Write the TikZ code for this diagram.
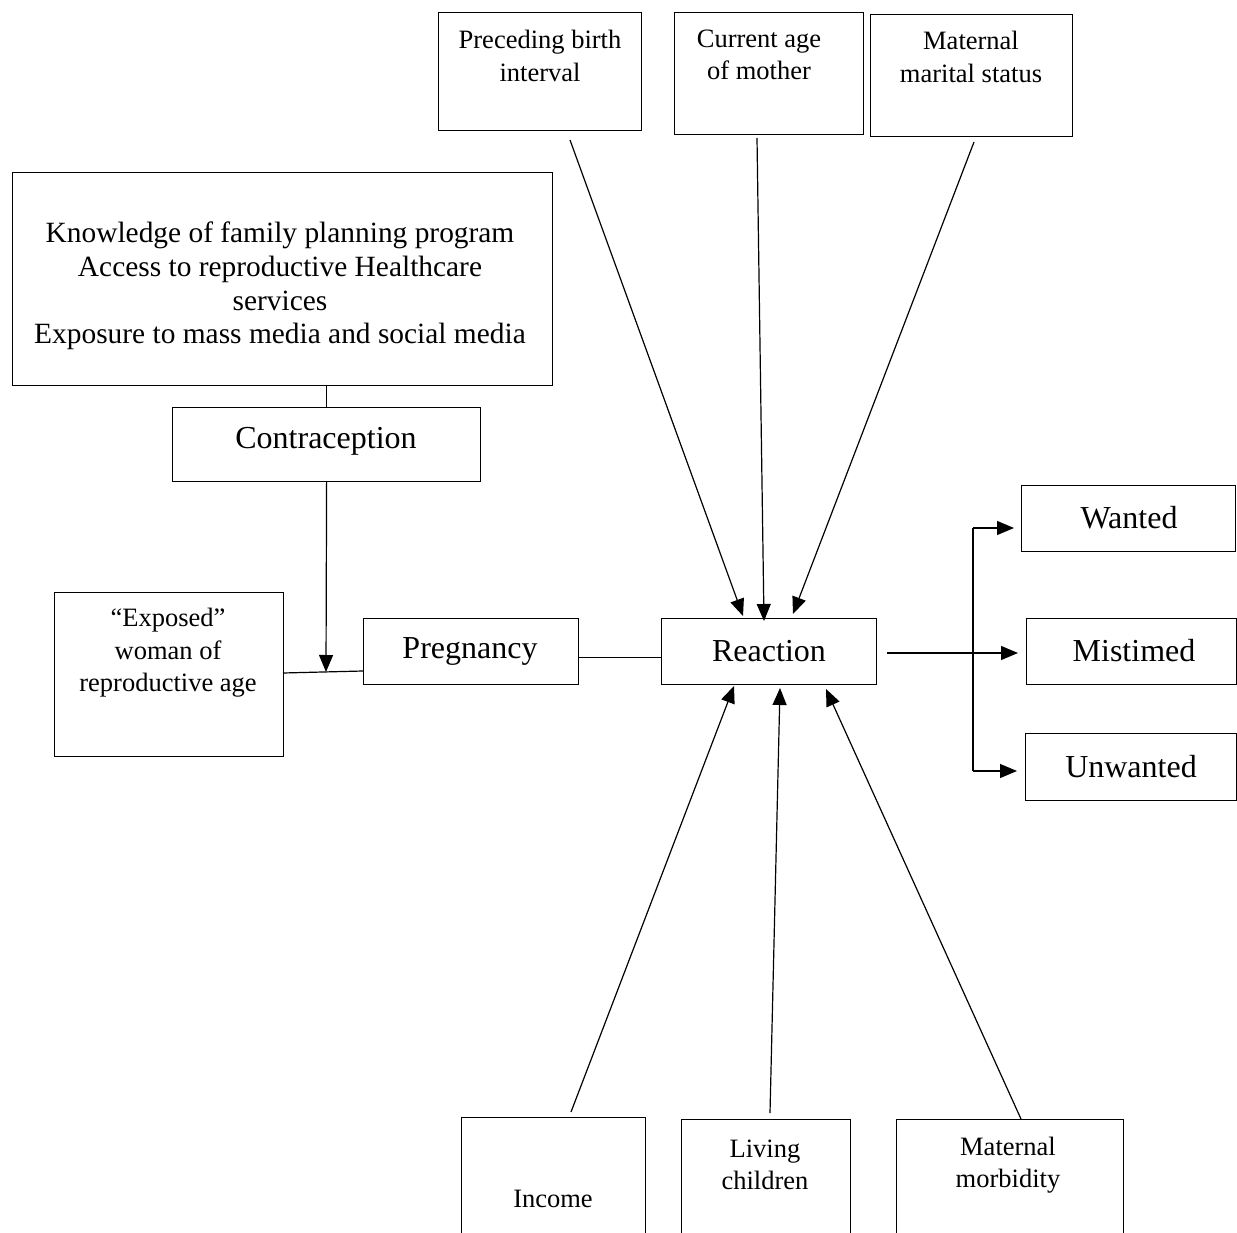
\documentclass[tikz,border=0pt]{standalone}
\usepackage{fontspec}
\setmainfont{Liberation Serif}
\usetikzlibrary{arrows.meta}
\begin{document}
\begin{tikzpicture}[x=1pt,y=-1pt,
  box/.style={draw, line width=1.2pt, inner sep=0pt, anchor=north west},
  lbl/.style={align=center, inner sep=0pt},
  small/.style={lbl, font=\fontsize{26.5}{32.5}\selectfont},
  medium/.style={lbl, font=\fontsize{29.4}{33.6}\selectfont},
  large/.style={lbl, font=\fontsize{32}{38}\selectfont},
  conn/.style={line width=1.2pt},
  arr/.style={conn, -{Triangle[length=17pt,width=14pt]}}
]
\useasboundingbox (0,0) rectangle (1237,1233);

% upper determinants
\node[box, minimum width=203pt, minimum height=118pt] (pbi) at (438,12) {};
\node[box, minimum width=189pt, minimum height=122pt] (cam) at (674,12) {};
\node[box, minimum width=202pt, minimum height=122pt] (mms) at (870,14) {};
\node[small] (tpbi) at (540,56) {Preceding birth\\interval};
\node[small] (tcam) at (759,55) {Current age\\of mother};
\node[small] (tmms) at (971,57) {Maternal\\marital status};

% programme factors and contraception
\node[box, minimum width=540pt, minimum height=213pt] (know) at (12,172) {};
\node[medium] (tknow) at (280,286) {Knowledge of family planning program\\Access to reproductive Healthcare\\services\\Exposure to mass media and social media};
\node[box, minimum width=308pt, minimum height=74pt] (contra) at (172,407) {};
\node[large] (tcontra) at (326,441) {Contraception};

% exposure, pregnancy, reaction
\node[box, minimum width=229pt, minimum height=164pt] (exp) at (54,592) {};
\node[small] (texp) at (168,653) {“Exposed”\\woman of\\reproductive age};
\node[box, minimum width=215pt, minimum height=66pt] (preg) at (363,618) {};
\node[large] (tpreg) at (470,651) {Pregnancy};
\node[box, minimum width=215pt, minimum height=66pt] (react) at (661,618) {};
\node[large] (treact) at (769,651) {Reaction};

% outcomes
\node[box, minimum width=214pt, minimum height=66pt] (want) at (1021,485) {};
\node[large] (twant) at (1129,518) {Wanted};
\node[box, minimum width=210pt, minimum height=66pt] (mist) at (1026,618) {};
\node[large] (tmist) at (1134,651) {Mistimed};
\node[box, minimum width=211pt, minimum height=67pt] (unw) at (1025,733) {};
\node[large] (tunw) at (1131,767) {Unwanted};

% lower determinants (running off the page)
\begin{scope}
\clip (0,0) rectangle (1237,1233);
\node[box, minimum width=184pt, minimum height=160pt] (inc) at (461,1117) {};
\node[box, minimum width=169pt, minimum height=160pt] (liv) at (681,1119) {};
\node[box, minimum width=227pt, minimum height=160pt] (morb) at (896,1119) {};
\end{scope}
\node[small] (tinc) at (553,1199) {Income};
\node[small] (tliv) at (765,1165) {Living\\children};
\node[small] (tmorb) at (1008,1165) {Maternal\\morbidity};

% connector end points
\coordinate (j) at (326,672);
\coordinate (expR) at (283,673);
\coordinate (pregL) at (363,671);
\coordinate (pbiO) at (570,140);
\coordinate (camO) at (757,138);
\coordinate (mmsO) at (974,142);
\coordinate (rN1) at (743,616);
\coordinate (rN2) at (764,621);
\coordinate (rN3) at (793,614);
\coordinate (incO) at (571,1112);
\coordinate (livO) at (770,1113);
\coordinate (morbO) at (1021,1119);
\coordinate (rS1) at (734,686);
\coordinate (rS2) at (780,688);
\coordinate (rS3) at (826,689);
\coordinate (rOut) at (887,653);
\coordinate (mIn) at (1018,653);
\coordinate (brT) at (973,528);
\coordinate (brB) at (973,771);
\coordinate (wIn) at (1014,528);
\coordinate (uIn) at (1017,771);

% connectors
\draw[conn] (contra.north |- know.south) -- (contra.north);
\draw[arr] (contra.south) -- (j);
\draw[conn] (expR) -- (pregL);
\draw[conn] ([yshift=-6pt]preg.east) -- ([yshift=-6pt]react.west);
\draw[arr] (pbiO) -- (rN1);
\draw[arr] (camO) -- (rN2);
\draw[arr] (mmsO) -- (rN3);
\draw[arr] (incO) -- (rS1);
\draw[arr] (livO) -- (rS2);
\draw[arr] (morbO) -- (rS3);
\draw[arr] (rOut) -- (mIn);
\draw[conn] (brT) -- (brB);
\draw[arr] (brT) -- (wIn);
\draw[arr] (brB) -- (uIn);
\end{tikzpicture}
\end{document}
